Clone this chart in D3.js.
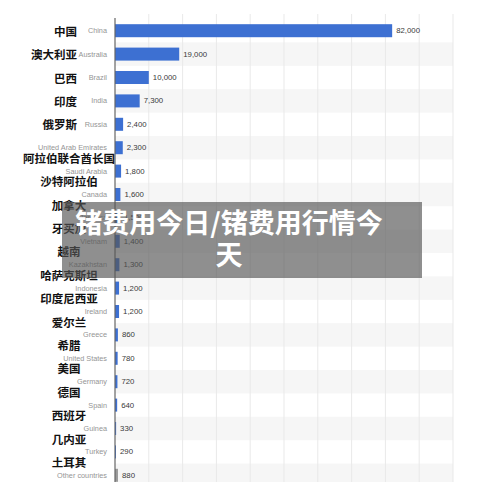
<!DOCTYPE html>
<html><head><meta charset="utf-8">
<script src="https://cdn.jsdelivr.net/npm/d3@7/dist/d3.min.js"></script>
<style>
html,body{margin:0;padding:0;background:#fff;}
svg{display:block;}
</style>
</head><body>
<svg id="c" width="485" height="482"></svg>
<script>
const categories = ["China","Australia","Brazil","India","Russia","United Arab Emirates","Saudi Arabia","Canada","Jamaica","Vietnam","Kazakhstan","Indonesia","Ireland","Greece","United States","Germany","Spain","Guinea","Turkey","Other countries"];
const chineseLabels = ["中国","澳大利亚","巴西","印度","俄罗斯","阿拉伯联合酋长国","沙特阿拉伯","加拿大","牙买加","越南","哈萨克斯坦","印度尼西亚","爱尔兰","希腊","美国","德国","西班牙","几内亚","土耳其",""];
const values = [82000,19000,10000,7300,2400,2300,1800,1600,1500,1400,1300,1200,1200,860,780,720,640,330,290,880];
const xTicks = [0,10000,20000,30000,40000,50000,60000,70000,80000,90000,100000];
const overlayLines = ["锗费用今日/锗费用行情今","天"];

const svg = d3.select("#c");
const plotLeft = 115, plotRight = 453, plotTop = 19, rowH = 23.4;
const x = d3.scaleLinear().domain([0,100000]).range([plotLeft,plotRight]);
const y = d3.scaleBand().domain(categories).range([plotTop, plotTop + rowH*categories.length]).paddingInner(0.444).paddingOuter(0.222);

// alternating bands
svg.append("g").selectAll("rect").data(categories.filter((d,i)=>i%2===1)).join("rect")
  .attr("x", plotLeft).attr("width", plotRight-plotLeft)
  .attr("y", d => y(d) - y.step()*y.paddingInner()/2)
  .attr("height", y.step())
  .attr("fill", "#f6f6f6");

// gridlines
svg.append("g").selectAll("line").data(xTicks.slice(1)).join("line")
  .attr("x1", d=>x(d)).attr("x2", d=>x(d))
  .attr("y1", 14).attr("y2", 482)
  .attr("stroke", "#e9e9e9").attr("stroke-width", 1);

// bars
svg.append("g").selectAll("rect").data(categories).join("rect")
  .attr("x", x(0))
  .attr("y", d=>y(d))
  .attr("height", y.bandwidth())
  .attr("width", (d,i)=>Math.max(1, x(values[i]) - x(0)))
  .attr("fill", (d,i)=> d==="Other countries" ? "#9a9a9a" : "#3d70d2");

// value labels
svg.append("g").selectAll("text").data(categories).join("text")
  .attr("x", (d,i)=> Math.max(x(values[i]), x(0)+1) + 4)
  .attr("y", d=>y(d)+y.bandwidth()/2)
  .attr("dominant-baseline","central")
  .attr("font-family","Liberation Sans, Arial, sans-serif")
  .attr("font-size", 7.8)
  .attr("fill","#3a3a3a")
  .text((d,i)=> d3.format(",")(values[i]));

// axis line
svg.append("line").attr("x1", plotLeft).attr("x2", plotLeft).attr("y1", 18).attr("y2", 482)
  .attr("stroke","#666").attr("stroke-width",1.2);

// english labels
svg.append("g").selectAll("text").data(categories).join("text")
  .attr("x", 107)
  .attr("y", d=>y(d)+y.bandwidth()/2)
  .attr("text-anchor","end")
  .attr("dominant-baseline","central")
  .attr("font-family","Liberation Sans, Arial, sans-serif")
  .attr("font-size", 7.3)
  .attr("fill","#959595")
  .text(d=>d);

// chinese labels
svg.append("g").selectAll("text").data(categories).join("text")
  .attr("x", (d,i)=> i<5 ? 77 : 69)
  .attr("y", (d,i)=> y(d)+y.bandwidth()/2 + (i<5 ? 0 : 10))
  .attr("text-anchor", (d,i)=> i<5 ? "end" : "middle")
  .attr("dominant-baseline","central")
  .attr("font-family","Noto Sans CJK SC, sans-serif")
  .attr("font-weight", 700)
  .attr("font-size", 11.5)
  .attr("fill","#111")
  .text((d,i)=>chineseLabels[i]);

// overlay banner
svg.append("rect").attr("x",62).attr("y",202).attr("width",360).attr("height",76)
  .attr("fill","#555").attr("opacity",0.66);
svg.append("g").selectAll("text").data(overlayLines).join("text")
  .attr("x", 229)
  .attr("y", (d,i)=> 221.5 + i*32)
  .attr("text-anchor","middle")
  .attr("dominant-baseline","central")
  .attr("font-family","Noto Sans CJK SC, sans-serif")
  .attr("font-weight",700)
  .attr("font-size",27)
  .attr("fill","#fff")
  .text(d=>d);
</script>
</body></html>
